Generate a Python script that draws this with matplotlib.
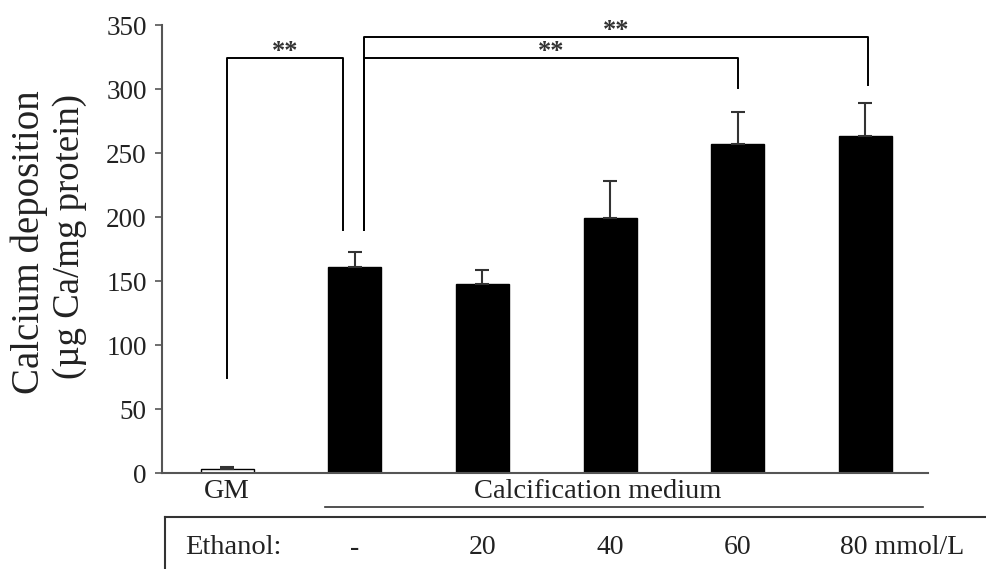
import matplotlib
matplotlib.use("Agg")
import matplotlib.pyplot as plt
import matplotlib.transforms as mtransforms

# ------------------------------------------------------------------ data
groups = ["GM", "-", "20", "40", "60", "80 mmol/L"]
means = [3.5, 161, 148, 199, 257, 263]
errs = [1.5, 12, 11, 29, 25, 26]
bar_colors = ["white", "black", "black", "black", "black", "black"]
y_ticks = [0, 50, 100, 150, 200, 250, 300, 350]

# significance brackets: (x_left, x_right, y_top, left_leg_end, right_leg_end)
brackets = [
    (0.0, 0.91, 324, 74, 190),
    (1.07, 4.0, 324, 190, 301),
    (1.07, 5.02, 341, 190, 303),
]

SERIF = ["Liberation Serif", "DejaVu Serif"]
plt.rcParams["font.family"] = SERIF
AX_GRAY = "#555555"
TXT = "#222222"

fig = plt.figure(figsize=(9.87, 5.69), dpi=100)
ax = fig.add_axes([0.1641, 0.1687, 0.7761, 0.7873])

x = list(range(len(groups)))
ax.bar(x, means, width=0.415, color=bar_colors, edgecolor="black", linewidth=1.0, zorder=2)
lower = [0] * len(errs)
ax.errorbar(x, means, yerr=[lower, errs], fmt="none", ecolor="#333333",
            elinewidth=1.5, capsize=5, capthick=1.5, zorder=3)

ax.set_xlim(-0.51, 5.49)
ax.set_ylim(0, 350)
ax.set_yticks(y_ticks)
ax.tick_params(axis="y", labelsize=19.5, direction="out", length=5, width=1.2,
               color=AX_GRAY, pad=6, labelcolor=TXT)
ax.set_xticks([])
for side in ("top", "right"):
    ax.spines[side].set_visible(False)
for side in ("left", "bottom"):
    ax.spines[side].set_color(AX_GRAY)
    ax.spines[side].set_linewidth(1.5)

# y label, two lines
fig.text(0.030, 0.575, "Calcium deposition", rotation=90, ha="center", va="center",
         fontsize=28, color=TXT)
fig.text(0.071, 0.585, "(\u00b5g Ca/mg protein)", rotation=90, ha="center", va="center",
         fontsize=26.5, color=TXT)

# significance brackets
for xl, xr, yt, yl, yr in brackets:
    ax.plot([xl, xl, xr, xr], [yl, yt, yt, yr], color="black", lw=1.4, clip_on=False)
    ax.text((xl + xr) / 2, yt - 4, "**", ha="center", va="bottom", fontsize=19,
            fontweight="bold", color="#333333", clip_on=False)

# group labels and table below the axis
trans = mtransforms.blended_transform_factory(ax.transData, fig.transFigure)
fig_tr = fig.transFigure
lab_y = 1 - 492 / 569
ax.text(0, lab_y, "GM", transform=trans, ha="center", va="center",
        fontsize=20.5, color=TXT)
ax.text(2.9, lab_y, "Calcification medium", transform=trans, ha="center",
        va="center", fontsize=20.5, color=TXT)
fig.add_artist(plt.Line2D([325 / 987, 923 / 987], [1 - 507 / 569] * 2,
                          color="#333333", lw=1.2, transform=fig_tr))
fig.add_artist(plt.Line2D([165 / 987, 1.0], [1 - 517 / 569] * 2,
                          color="#333333", lw=1.5, transform=fig_tr))
fig.add_artist(plt.Line2D([165 / 987, 165 / 987], [1 - 517 / 569, 0],
                          color="#333333", lw=1.5, transform=fig_tr))

row_y = 1 - 548 / 569
fig.text(185 / 987, row_y, "Ethanol:", ha="left", va="center", fontsize=20.5, color=TXT)
for i, g in enumerate(groups[1:], start=1):
    if i == len(groups) - 1:
        ax.text(i - 0.2, row_y, g, transform=trans, ha="left", va="center",
                fontsize=20, color=TXT)
    else:
        ax.text(i, row_y, g, transform=trans, ha="center", va="center",
                fontsize=20, color=TXT)

fig.savefig("out.png", dpi=100)
